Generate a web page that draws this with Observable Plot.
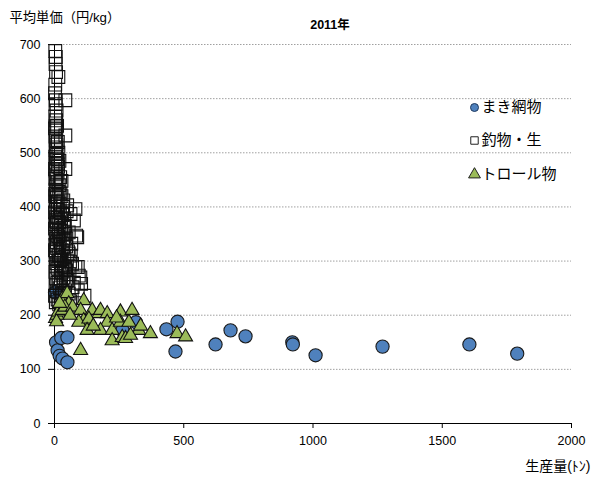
<!DOCTYPE html>
<html>
<head>
<meta charset="utf-8">
<script src="https://cdn.jsdelivr.net/npm/d3@7"></script>
<script src="https://cdn.jsdelivr.net/npm/@observablehq/plot@0.6"></script>
<style>
  html, body { margin: 0; padding: 0; background: #fff; }
  #chart svg { display: block; }
</style>
</head>
<body>
<div id="chart"></div>
<script>
// 2011年: 生産量 (トン) と 平均単価 (円/kg) — 漁法別
const seriesNames = ["まき網物", "釣物・生", "トロール物"];

// まき網物 [生産量, 平均単価]
const makiami = [
  [2, 242], [6, 150], [12, 135], [20, 125], [26, 158], [31, 120], [50, 159], [50, 113],
  [263, 172], [315, 187], [433, 174], [468, 133], [476, 188], [623, 146], [681, 172],
  [739, 161], [920, 150], [922, 146], [1010, 126], [1269, 142], [1605, 146], [1790, 129]
];

// 釣物・生 [生産量, 平均単価]
const tsuri = [
  [3, 688], [5, 677], [4, 664], [6, 649], [15, 640], [3, 626], [5, 597], [42, 597],
  [4, 590], [8, 578], [3, 567], [6, 560], [4, 549], [7, 541], [42, 532], [3, 530],
  [5, 523], [8, 515], [4, 505], [6, 498], [3, 493], [10, 488], [5, 480], [14, 474],
  [42, 470], [4, 467], [8, 460], [3, 452], [12, 446], [6, 440], [4, 432], [16, 428],
  [3, 424], [9, 418], [5, 410], [20, 406], [49, 403], [81, 396], [4, 400], [12, 394],
  [62, 387], [30, 385], [6, 381], [75, 375], [18, 372], [3, 368], [40, 365], [10, 360],
  [25, 356], [55, 353], [4, 351], [84, 347], [14, 346], [88, 344], [6, 341], [35, 338],
  [20, 335], [65, 332], [3, 330], [45, 327], [10, 324], [28, 320], [5, 317], [55, 314],
  [15, 311], [38, 308], [4, 305], [22, 302], [60, 299], [8, 296], [68, 295], [30, 292],
  [90, 289], [81, 289], [12, 286], [45, 283], [3, 280], [25, 277], [94, 273], [100, 270],
  [6, 268], [50, 265], [16, 262], [35, 259], [103, 258], [4, 255], [70, 252], [20, 250],
  [90, 246], [8, 244], [40, 241], [116, 236], [2, 236], [26, 233], [12, 229], [60, 226],
  [5, 224], [18, 220], [30, 245], [48, 300], [2, 360], [8, 430], [12, 480], [2, 390],
  [20, 340], [3, 420], [7, 510], [10, 550], [2, 610], [35, 270], [75, 260], [55, 240],
  [42, 350], [33, 400], [15, 500], [22, 455], [27, 420], [9, 372], [18, 310], [6, 290],
  [11, 260], [14, 380], [24, 365], [9, 335], [16, 300], [28, 280], [2, 320], [7, 455],
  [19, 440], [2, 470], [13, 520], [2, 545], [5, 375], [21, 390], [31, 350], [13, 410],
  [26, 305], [33, 325], [17, 355], [23, 425], [36, 290], [29, 240], [44, 262], [11, 395],
  [38, 378], [46, 342], [52, 318], [34, 412], [27, 448], [41, 286], [58, 276], [24, 268],
  [47, 392], [19, 485], [36, 362], [63, 310]
];

// トロール物 [生産量, 平均単価]
const trawl = [
  [4, 194], [10, 200], [15, 206], [8, 188], [30, 230], [49, 240], [55, 221], [30, 209],
  [40, 215], [20, 222], [70, 215], [113, 227], [101, 209], [113, 190], [94, 187],
  [146, 209], [171, 203], [133, 193], [126, 172], [178, 209], [204, 203], [204, 187],
  [178, 172], [223, 172], [255, 206], [255, 187], [288, 187], [300, 209], [326, 172],
  [333, 180], [371, 166], [223, 153], [262, 159], [275, 157], [294, 163], [101, 135],
  [474, 166], [507, 160], [60, 200], [240, 195], [150, 180]
];

const xTicks = [0, 500, 1000, 1500, 2000];
const yTicks = [0, 100, 200, 300, 400, 500, 600, 700];

const blue = "#4F81BD";
const green = "#9BBB59";
const font = "'Liberation Sans', 'Noto Sans CJK JP', sans-serif";

const legendItems = [
  {name: seriesNames[0], symbol: "circle", fill: blue, stroke: "#1f3a5f", r: 4, dy: 63},
  {name: seriesNames[1], symbol: "square", fill: "none", stroke: "#222", r: 4.2, dy: 96},
  {name: seriesNames[2], symbol: "triangle", fill: green, stroke: "#222", r: 4.4, dy: 130}
];

const chart = Plot.plot({
  width: 593,
  height: 477,
  marginLeft: 54,
  marginRight: 22,
  marginTop: 44,
  marginBottom: 54,
  style: {fontFamily: font, fontSize: "12px", color: "#000", background: "#fff"},
  x: {domain: [0, 2000]},
  y: {domain: [0, 700]},
  marks: [
    // dotted horizontal gridlines
    Plot.ruleY(yTicks.filter(d => d > 0), {stroke: "#a0a0a0", strokeWidth: 1, strokeDasharray: "1.5,1.5"}),
    // axis lines
    Plot.ruleX([0], {stroke: "#000", strokeWidth: 1}),
    Plot.ruleY([0], {stroke: "#000", strokeWidth: 1}),
    Plot.axisY({ticks: yTicks, tickSize: 6, tickPadding: 8, tickFormat: d => String(d), label: null, fontSize: 12.5}),
    Plot.axisX({ticks: xTicks, tickSize: 5, tickPadding: 8, tickFormat: d => String(d), label: null, fontSize: 12.5}),
    // series
    Plot.dot(makiami, {x: d => d[0], y: d => d[1], r: 6.6, fill: blue, stroke: "#1a1a1a", strokeWidth: 1.1}),
    Plot.dot(tsuri, {x: d => d[0], y: d => d[1], symbol: "square", r: 7.2, fill: "none", stroke: "#111", strokeWidth: 1.1}),
    Plot.dot(trawl, {x: d => d[0], y: d => d[1], symbol: "triangle", r: 5.2, fill: green, stroke: "#111", strokeWidth: 1.1}),
    // titles
    Plot.text(["2011年"], {frameAnchor: "top", lineAnchor: "middle", dx: 17, dy: -20, fontWeight: "bold", fontSize: 12.5, fill: "#000"}),
    Plot.text(["平均単価（円/kg）"], {frameAnchor: "top-left", lineAnchor: "middle", textAnchor: "start", dx: -45, dy: -27, fontSize: 13.3, fill: "#000"}),
    Plot.text(["生産量(ﾄﾝ)"], {frameAnchor: "bottom-right", lineAnchor: "middle", textAnchor: "end", dx: 19, dy: 43, fontSize: 14, fill: "#000"}),
    // legend
    ...legendItems.flatMap(item => [
      Plot.dot([item], {frameAnchor: "top-left", dx: 420, dy: item.dy, symbol: item.symbol, r: item.r, fill: item.fill, stroke: item.stroke, strokeWidth: 1}),
      Plot.text([item], {frameAnchor: "top-left", lineAnchor: "middle", dx: 427, dy: item.dy, text: d => d.name, textAnchor: "start", fontSize: 15, fill: "#000"})
    ])
  ]
});

document.getElementById("chart").append(chart);
</script>
</body>
</html>
